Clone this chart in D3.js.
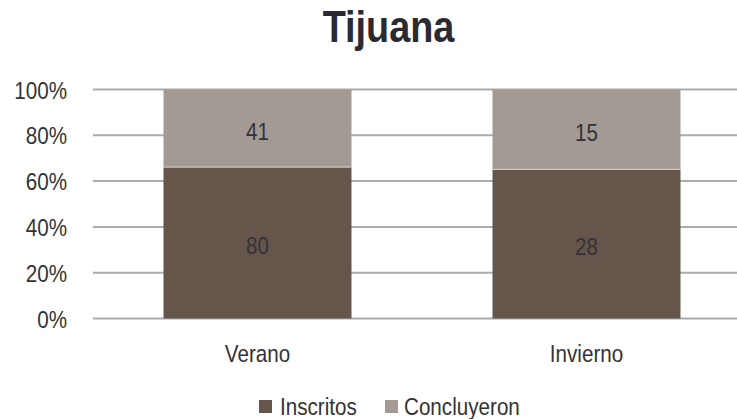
<!DOCTYPE html>
<html><head><meta charset="utf-8">
<script src="https://cdn.jsdelivr.net/npm/d3@7"></script>
<style>
html,body{margin:0;padding:0;background:#fff;}
svg{display:block;font-family:"Liberation Sans",Arial,sans-serif;}
</style></head>
<body>
<svg id="chart" width="737" height="419"></svg>
<script>
const categories = ["Verano", "Invierno"];
const seriesNames = ["Inscritos", "Concluyeron"];
const inscritos = [80, 28];
const concluyeron = [41, 15];
const yTicks = [0, 0.2, 0.4, 0.6, 0.8, 1.0];
const colors = ["#65554b", "#a39a94"];

const FONT = "'Liberation Sans',Arial,sans-serif";
const FS = 24;
const SX = 0.86; // horizontal condensing to mimic a narrow face
const svg = d3.select("#chart");
const plotLeft = 93, plotRight = 751, plotTop = 89.5, plotBottom = 318.5;

function narrow(sel) {
  sel.each(function() {
    const t = d3.select(this);
    const tx = +t.attr("x") || 0, ty = +t.attr("y") || 0;
    t.attr("x", null).attr("y", null)
     .attr("transform", `translate(${tx},${ty}) scale(${SX},1)`);
  });
}

const x = d3.scaleBand().domain(categories).range([plotLeft, plotRight])
  .paddingInner(0.4286).paddingOuter(0.2143);
const y = d3.scaleLinear().domain([0, 1]).range([plotBottom, plotTop]);

// gridlines
svg.append("g").selectAll("line").data(yTicks).join("line")
  .attr("x1", plotLeft).attr("x2", plotRight)
  .attr("y1", d => y(d)).attr("y2", d => y(d))
  .attr("stroke", "#ababab").attr("stroke-width", 2);

// y axis labels
const yAxis = d3.axisLeft(y).tickValues(yTicks).tickFormat(d3.format(".0%")).tickSize(0).tickPadding(0);
const gy = svg.append("g").attr("transform", `translate(67,0)`).call(yAxis);
gy.select(".domain").remove();
gy.selectAll("text").attr("font-size", FS).attr("fill", "#333").attr("font-family", FONT).attr("dy", "0.36em").call(narrow);

// stacked data
const rows = categories.map((c, i) => ({cat: c, Inscritos: inscritos[i], Concluyeron: concluyeron[i]}));
const stack = d3.stack().keys(seriesNames).offset(d3.stackOffsetExpand);
const layers = stack(rows);

const g = svg.append("g");
layers.forEach((layer, li) => {
  g.append("g").selectAll("rect").data(layer).join("rect")
    .attr("x", d => x(d.data.cat))
    .attr("width", x.bandwidth())
    .attr("y", d => y(d[1]))
    .attr("height", d => y(d[0]) - y(d[1]))
    .attr("fill", colors[li]);
});
g.append("g").selectAll("line").data(layers[0]).join("line")
  .attr("x1", d => x(d.data.cat)).attr("x2", d => x(d.data.cat) + x.bandwidth())
  .attr("y1", d => y(d[1])).attr("y2", d => y(d[1]))
  .attr("stroke", "#d8d3cf").attr("stroke-width", 1);

layers.forEach((layer, li) => {
  g.append("g").selectAll("text").data(layer).join("text")
    .attr("x", d => x(d.data.cat) + x.bandwidth() / 2)
    .attr("y", d => (y(d[0]) + y(d[1])) / 2 + 3)
    .attr("text-anchor", "middle").attr("dy", "0.35em")
    .attr("font-size", FS).attr("fill", "#33323a").attr("font-family", FONT)
    .text(d => d.data[seriesNames[li]]).call(narrow);
});

// x axis labels
const xAxis = d3.axisBottom(x).tickSize(0).tickPadding(0);
const gx = svg.append("g").attr("transform", `translate(0,${plotBottom})`).call(xAxis);
gx.select(".domain").remove();
gx.selectAll("text").attr("font-size", FS).attr("fill", "#333").attr("font-family", FONT)
  .attr("dy", null).attr("y", 43.5).call(narrow);

// title
svg.append("text").attr("x", 388.5).attr("y", 41.5).attr("text-anchor", "middle")
  .attr("font-family", FONT)
  .attr("font-size", 44).attr("font-weight", "bold").attr("fill", "#2b2a33").text("Tijuana").call(narrow);

// legend
const legendItems = [
  {name: seriesNames[0], color: colors[0], sx: 259, tx: 280},
  {name: seriesNames[1], color: colors[1], sx: 385, tx: 404}
];
const lg = svg.append("g");
lg.selectAll("rect").data(legendItems).join("rect")
  .attr("x", d => d.sx).attr("y", 400).attr("width", 13).attr("height", 13).attr("fill", d => d.color);
lg.selectAll("text").data(legendItems).join("text")
  .attr("x", d => d.tx).attr("y", 415).attr("font-size", FS).attr("font-family", FONT)
  .attr("fill", "#333").text(d => d.name).call(narrow);
</script>
</body></html>
